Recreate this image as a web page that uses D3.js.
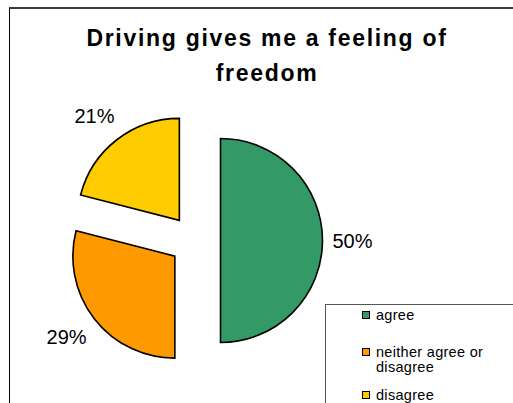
<!DOCTYPE html>
<html>
<head>
<meta charset="utf-8">
<script src="https://cdn.jsdelivr.net/npm/d3@7"></script>
<style>
  html, body { margin: 0; padding: 0; background: #fff; }
  svg { display: block; font-family: "Liberation Sans", Arial, sans-serif; }
</style>
</head>
<body>
<svg id="chart" width="513" height="403"></svg>
<script>
// Survey answers, in clockwise order from 12 o'clock
const categories = ["agree", "neither agree or disagree", "disagree"];
const values = [50, 29, 21];
const legendLines = [["agree"], ["neither agree or", "disagree"], ["disagree"]];
const colors = ["#339966", "#FF9900", "#FFCC00"];
const titleLines = ["Driving gives me a feeling of", "freedom"];

const svg = d3.select("#chart");

// Chart frame: heavy top rule and thin left edge
svg.append("line").attr("x1", 9).attr("x2", 513).attr("y1", 8).attr("y2", 8)
  .attr("stroke", "#3a3a3a").attr("stroke-width", 2);
svg.append("line").attr("x1", 9.5).attr("x2", 9.5).attr("y1", 8).attr("y2", 403)
  .attr("stroke", "#000").attr("stroke-width", 1);

// Title
svg.append("g").selectAll("text").data(titleLines).join("text")
  .attr("x", 267)
  .attr("y", (d, i) => 46 + i * 35)
  .attr("text-anchor", "middle")
  .attr("font-size", 23)
  .attr("font-weight", "bold")
  .attr("letter-spacing", 1.7)
  .attr("fill", "#000")
  .text(d => d);

// Exploded pie
const cx = 195, cy = 240.5, radius = 102, explode = 25.5, labelDist = 132;
const pie = d3.pie().sort(null).value(d => d)(values);
const arc = d3.arc().innerRadius(0).outerRadius(radius);
const mid = d => (d.startAngle + d.endAngle) / 2;

const slices = svg.append("g").attr("transform", `translate(${cx},${cy})`)
  .selectAll("g").data(pie).join("g")
  .attr("transform", d => `translate(${Math.sin(mid(d)) * explode},${-Math.cos(mid(d)) * explode})`);

slices.append("path")
  .attr("d", arc)
  .attr("fill", (d, i) => colors[i])
  .attr("stroke", "#000")
  .attr("stroke-width", 1.6)
  .attr("stroke-linejoin", "miter");

const total = d3.sum(values);
slices.append("text")
  .attr("x", d => Math.sin(mid(d)) * labelDist - (Math.sin(mid(d)) < 0 ? 4 : 0))
  .attr("y", d => -Math.cos(mid(d)) * labelDist)
  .attr("text-anchor", "middle")
  .attr("dy", "0.36em")
  .attr("font-size", 20)
  .attr("fill", "#000")
  .text(d => Math.round(d.data / total * 100) + "%");

// Legend (box runs past the right and bottom edges)
svg.append("rect").attr("x", 325.5).attr("y", 304.5).attr("width", 200).attr("height", 120)
  .attr("fill", "#fff").attr("stroke", "#555").attr("stroke-width", 1);

const legendBase = [320, 357, 400];
const legend = svg.append("g").selectAll("g").data(categories).join("g")
  .attr("transform", (d, i) => `translate(0,${legendBase[i]})`);
legend.append("rect")
  .attr("x", 362.5).attr("y", -8.5).attr("width", 7).attr("height", 7)
  .attr("fill", (d, i) => colors[i]).attr("stroke", "#000").attr("stroke-width", 1);
legend.append("text")
  .attr("x", 376)
  .attr("font-size", 14.5)
  .attr("letter-spacing", 0.3)
  .attr("fill", "#000")
  .selectAll("tspan").data((d, i) => legendLines[i]).join("tspan")
  .attr("x", 376)
  .attr("y", (d, j) => j * 14.5)
  .text(d => d);
</script>
</body>
</html>
